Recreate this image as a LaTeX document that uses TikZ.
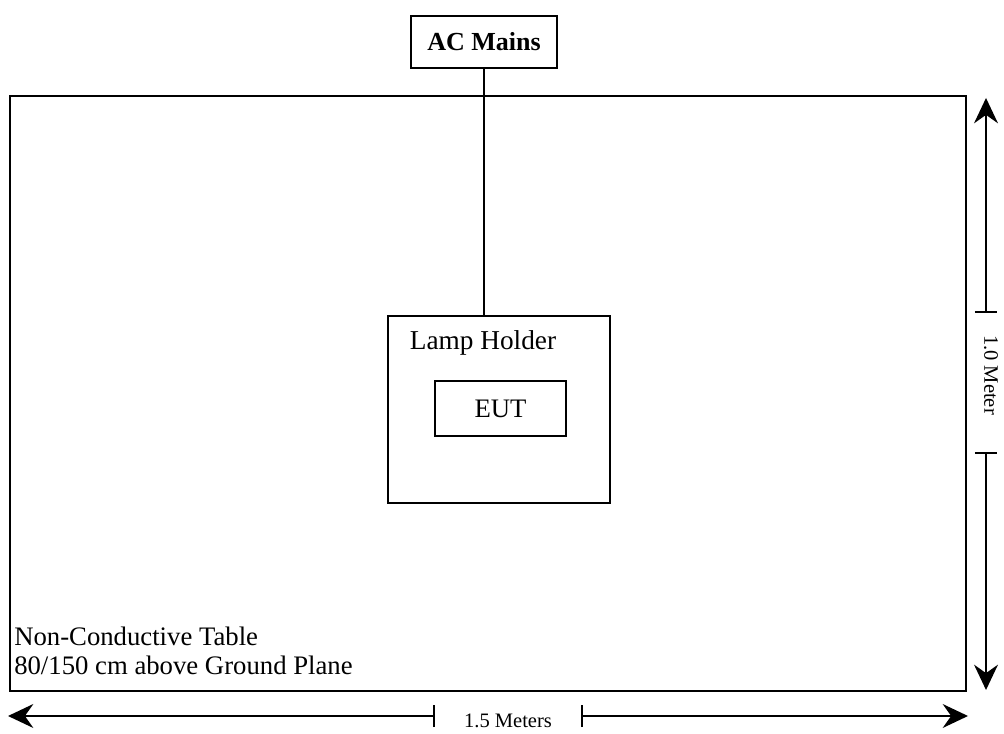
\documentclass[tikz,border=0pt]{standalone}
\usepackage{fontspec}
\setmainfont{Liberation Serif}
\usetikzlibrary{arrows.meta}

\tikzset{
  box/.style={draw, line width=1.3pt, inner sep=0pt},
  dimarrow/.style={-{Stealth[length=18pt,width=17pt,inset=6pt]}, line width=1.2pt},
  dimtick/.style={line width=1.2pt},
  dimlabel/.style={font=\fontsize{14.6}{17}\selectfont, inner sep=1pt}
}

\begin{document}
\begin{tikzpicture}[x=0.025cm, y=0.025cm, font=\fontsize{19}{20.6}\selectfont]
				\useasboundingbox (0,0) rectangle (1004,734);
				% table
				\draw[line width=2.1pt] (10,43) rectangle (966,638);
				\node[anchor=west, align=left, inner sep=0pt] (table) at (14,83.5) {Non-Conductive Table\\80/150 cm above Ground Plane};
				% mains and lamp holder
				\node[box, minimum width=3.65cm, minimum height=1.3cm, font=\bfseries\fontsize{18.5}{22}\selectfont] (mains) at (484,692) {AC Mains};
				\node[box, minimum width=5.55cm, minimum height=4.675cm] (holder) at (499,324.5) {};
				\node[font=\fontsize{19.4}{22}\selectfont] (holderlbl) at (483,391) {Lamp Holder};
				\node[box, minimum width=3.275cm, minimum height=1.375cm] (eut) at (500.5,325.5) {EUT};
				\draw[line width=1.3pt] (mains) -- (mains |- holder.north);
				% 1.0 meter
				\node[dimlabel, rotate=-90] (lenv) at (991,359) {1.0 Meter};
				\coordinate (vtop) at (986,422);
				\coordinate (vbot) at (986,281);
				\draw[dimtick] ([xshift=-8]vtop) -- ([xshift=8]vtop);
				\draw[dimtick] ([xshift=-8]vbot) -- ([xshift=8]vbot);
				\draw[dimarrow] (vtop) -- (986,636);
				\draw[dimarrow] (vbot) -- (986,44);
				% 1.5 meters
				\node[dimlabel] (lenh) at (508,13) {1.5 Meters};
				\coordinate (hleft) at (434,18);
				\coordinate (hright) at (582,18);
				\draw[dimtick] ([yshift=-8]hleft) -- ([yshift=8]hleft);
				\draw[dimtick] ([yshift=-8]hright) -- ([yshift=8]hright);
				\draw[dimarrow] (hleft) -- (8,18);
				\draw[dimarrow] (hright) -- (968,18);
			\end{tikzpicture}
\end{document}
